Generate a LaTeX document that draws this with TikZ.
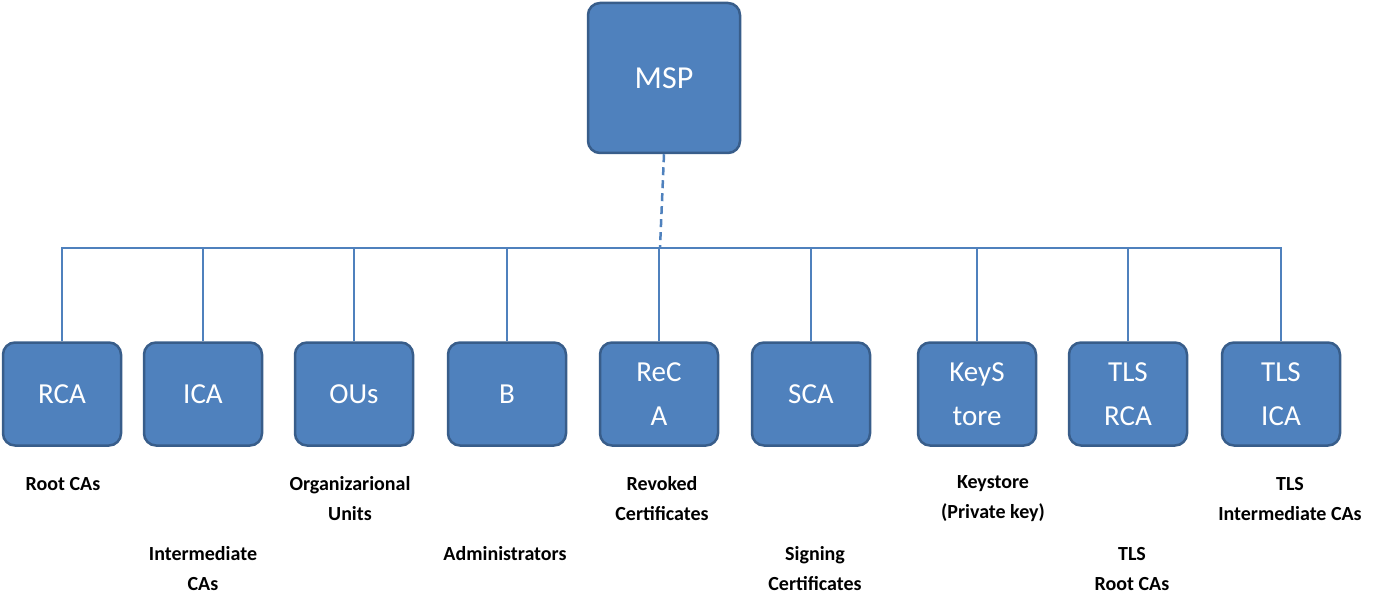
\documentclass[tikz,border=0pt]{standalone}
\usepackage{fontspec}
\setmainfont{Carlito}
\usetikzlibrary{positioning}
\definecolor{boxfill}{HTML}{4F81BD}
\definecolor{boxline}{HTML}{385D8A}
\tikzset{
  box/.style={draw=boxline, line width=2.5pt, fill=boxfill, rounded corners=12pt,
    text=white, align=center, inner sep=0pt},
  child/.style={box, minimum width=118pt, minimum height=103pt,
    font=\fontsize{29}{44}\selectfont},
  lbl/.style={align=center, font=\fontsize{20}{30}\selectfont\bfseries},
  link/.style={draw=boxfill, line width=2.5pt}
}
\begin{document}
\begin{tikzpicture}[x=1pt,y=-1pt]
    \useasboundingbox (0,0) rectangle (1395,607);
    \node (msp) [box, minimum width=152pt, minimum height=150pt,
        font=\fontsize{32}{40}\selectfont] at (664,78) {MSP};
    \coordinate (bus) at (660,248);
    % children
    \node (rca)  [child] at (62,394)   {RCA};
    \node (ica)  [child] at (203,394)  {ICA};
    \node (ous)  [child] at (354,394)  {OUs};
    \node (b)    [child] at (507,394)  {B};
    \node (reca) [child] at (659,394)  {ReC\\A};
    \node (sca)  [child] at (811,394)  {SCA};
    \node (ks)   [child] at (977,394)  {KeyS\\tore};
    \node (trca) [child] at (1128,394) {TLS\\RCA};
    \node (tica) [child] at (1281,394) {TLS\\ICA};
    % connectors
    \draw[link, dashed, dash pattern=on 8pt off 5pt] (msp.south) -- (bus);
    \foreach \n in {rca,ica,ous,b,reca,sca,ks,trca,tica}
        \draw[link] (\n.north) |- (bus);
    % labels
    \node[lbl] at (63,484)  {Root CAs};
    \node[lbl] at (203,569) {Intermediate\\CAs};
    \node[lbl] at (350,499) {Organizarional\\Units};
    \node[lbl] at (505,554) {Administrators};
    \node[lbl] at (662,499) {Revoked\\Certificates};
    \node[lbl] at (815,569) {Signing\\Certificates};
    \node[lbl] at (993,499) {Keystore\\(Private key)};
    \node[lbl] at (1132,569) {TLS\\Root CAs};
    \node[lbl] at (1290,499) {TLS\\Intermediate CAs};
\end{tikzpicture}
\end{document}
